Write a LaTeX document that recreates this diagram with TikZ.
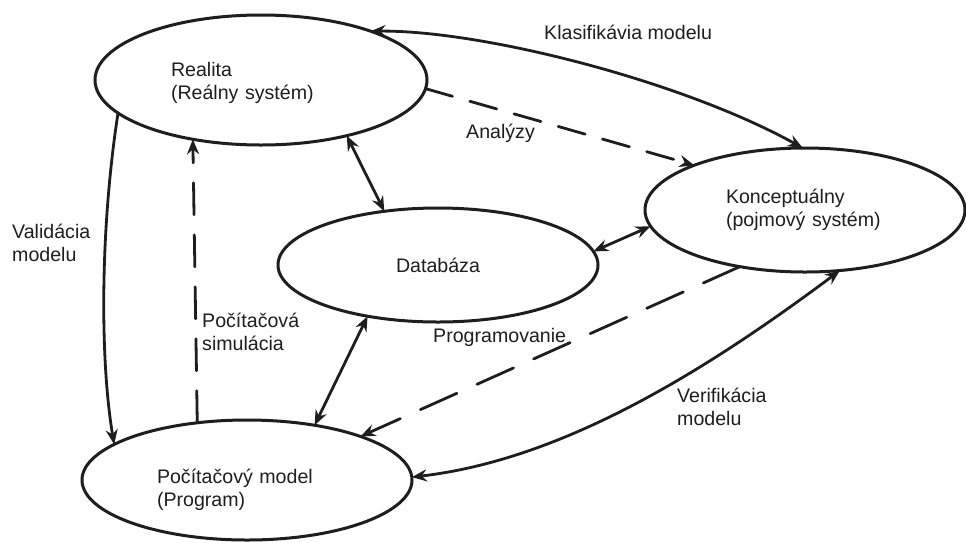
\documentclass[tikz,border=0pt]{standalone}
\usepackage{fontspec}
\setmainfont{Liberation Sans}
\usetikzlibrary{shapes.geometric,arrows.meta}
\definecolor{ink}{HTML}{1E1E1E}
\begin{document}
\begin{tikzpicture}[x=1pt,y=1pt,
  >={Stealth[length=15pt,width=12pt,inset=5pt]},
  blob/.style={ellipse, draw=ink, line width=3pt, inner sep=0pt, outer sep=0pt,
               font=\fontsize{19.6}{23}\selectfont, text=ink},
  lbl/.style={font=\fontsize{19.6}{23}\selectfont, text=ink, inner sep=0pt, align=left},
  conn/.style={draw=ink, line width=2.8pt, line cap=round}]
\fill[white] (0,0) rectangle (966,-542);
\useasboundingbox (0,0) rectangle (966,-542);

% ellipses
\node[blob, minimum width=332pt, minimum height=130pt, text width=180pt, align=left]
  (R) at (261,-80) {\rule{0pt}{21pt}Realita\\(Reálny systém)};
\node[blob, minimum width=320pt, minimum height=124pt, text width=158pt, align=left]
  (K) at (805,-210) {Konceptuálny\\(pojmový systém)};
\node[blob, minimum width=320pt, minimum height=114pt]
  (D) at (438,-265) {Databáza};
\node[blob, minimum width=330pt, minimum height=120pt, text width=180pt, align=left]
  (P) at (247,-480) {\rule{0pt}{34pt}Počítačový model\\(Program)};

% connectors
\draw[conn,<->] (R.24) .. controls (480,-30) and (680,-80) .. (K.92);
\draw[conn,->,dash pattern=on 28pt off 18pt] (R.-3) -- (K.158);
\draw[conn,<->] (R.-33) -- (D.135);
\draw[conn,<->] (D.5) -- (K.186);
\draw[conn,<->] (P.1) .. controls (560,-460) and (700,-375) .. (K.-60);
\draw[conn,->,dash pattern=on 40pt off 22pt] (K.221) -- (P.21);
\draw[conn,<->] (D.216) -- (P.39);
\draw[conn,->] (R.193) .. controls (100,-230) and (100,-360) .. (P.165);
\draw[conn,->,dash pattern=on 32pt off 20pt] (P.131) -- (R.221);

% labels
\node[lbl, anchor=west] (lk) at (544,-32) {Klasifikávia modelu};
\node[lbl, anchor=west] (la) at (466,-133) {Analýzy};
\node[lbl, anchor=west] (lv) at (12,-243) {Validácia\\modelu};
\node[lbl, anchor=west] (ls) at (202,-332) {Počítačová\\simulácia};
\node[lbl, anchor=west] (lp) at (433,-337) {Programovanie};
\node[lbl, anchor=west] (lf) at (677,-407) {Verifikácia\\modelu};
\end{tikzpicture}
\end{document}
